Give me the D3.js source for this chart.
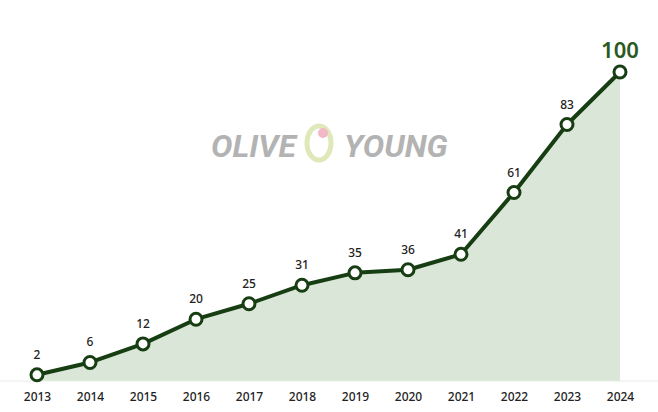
<!DOCTYPE html>
<html><head><meta charset="utf-8">
<script src="https://cdn.jsdelivr.net/npm/d3@7"></script>
<style>body{margin:0;background:#fff}</style>
</head><body><div id="chart"></div>
<script>
const years = ['2013','2014','2015','2016','2017','2018','2019','2020','2021','2022','2023','2024'];
const values = [2, 6, 12, 20, 25, 31, 35, 36, 41, 61, 83, 100];

const width = 658, height = 412;
const svg = d3.select('#chart').append('svg').attr('width', width).attr('height', height);

const x = d3.scalePoint().domain(years).range([37, 620]);
const y = d3.scaleLinear().domain([0, 100]).range([381, 72]);

// watermark logo
const logo = svg.append('g').attr('font-family', 'Roboto, sans-serif').attr('font-weight', 'bold')
  .attr('font-style', 'italic').attr('font-size', 32).attr('fill', '#b3b3b3');
logo.append('text').attr('x', 211).attr('y', 157).text('OLIVE');
logo.append('text').attr('x', 344).attr('y', 157).text('YOUNG');
logo.append('ellipse').attr('cx', 319).attr('cy', 143).attr('rx', 12).attr('ry', 17)
  .attr('fill', 'none').attr('stroke', '#dfe8b8').attr('stroke-width', 5);
logo.append('circle').attr('cx', 323).attr('cy', 133).attr('r', 5).attr('fill', '#f2b8c8');

const area = d3.area().x((d, i) => x(years[i])).y0(y(0)).y1(d => y(d));
svg.append('path').datum(values).attr('d', area).attr('fill', '#d6e4d4').attr('opacity', 0.9);

svg.append('line').attr('x1', 0).attr('x2', width).attr('y1', y(0)).attr('y2', y(0))
  .attr('stroke', '#e6ece6');

const line = d3.line().x((d, i) => x(years[i])).y(d => y(d));
svg.append('path').datum(values).attr('d', line).attr('fill', 'none')
  .attr('stroke', '#173d12').attr('stroke-width', 4).attr('stroke-linejoin', 'round');

svg.selectAll('circle.pt').data(values).join('circle').attr('class', 'pt')
  .attr('cx', (d, i) => x(years[i])).attr('cy', d => y(d)).attr('r', 6)
  .attr('fill', '#fff').attr('stroke', '#173d12').attr('stroke-width', 3);

svg.selectAll('text.val').data(values).join('text').attr('class', 'val')
  .attr('x', (d, i) => x(years[i])).attr('y', d => y(d) - (d === 100 ? 14 : 16))
  .attr('text-anchor', 'middle').attr('font-family', 'Noto Sans, sans-serif')
  .attr('font-size', d => d === 100 ? 22 : 12)
  .attr('font-weight', d => d === 100 ? 600 : 500)
  .attr('fill', d => d === 100 ? '#2a5a22' : '#222')
  .text(d => d);

const xAxis = svg.append('g').attr('transform', `translate(0,${y(0)})`)
  .call(d3.axisBottom(x).tickSize(0).tickPadding(11));
xAxis.select('.domain').remove();
xAxis.selectAll('text').attr('font-family', 'Noto Sans, sans-serif').attr('font-size', 12)
  .attr('font-weight', 500).attr('fill', '#222');
</script></body></html>
